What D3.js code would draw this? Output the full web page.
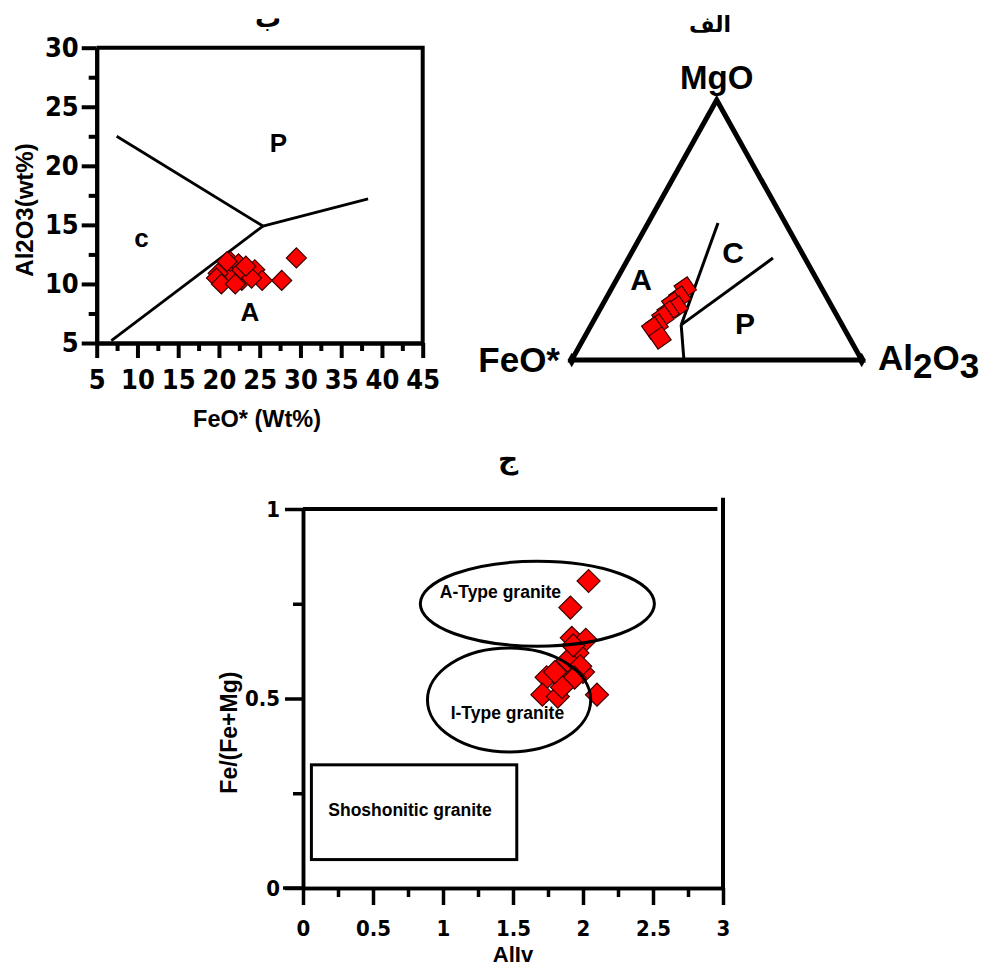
<!DOCTYPE html>
<html>
<head>
<meta charset="utf-8">
<script src="https://cdn.jsdelivr.net/npm/d3@7"></script>
<style>
  body { margin: 0; background: #fff; }
  svg { display: block; background: #fff; }
  text { font-family: "Liberation Sans", Arial, sans-serif; font-weight: bold; fill: #000; }
  .ar { font-family: "DejaVu Sans", sans-serif; }
  .num { font-family: "DejaVu Sans Condensed", "DejaVu Sans", sans-serif; font-stretch: condensed; }
</style>
</head>
<body>
<svg id="fig" width="984" height="969"></svg>
<script>
// ---------- data: FeO* vs Al2O3 (plot "ب") ----------
const bFeO   = [29.5, 27.7, 24.4, 25.3, 22.8, 21.2, 21.4, 19.9, 19.7, 22.4, 22.8, 20.3, 22.0, 24.0, 21.0, 23.3];
const bAl2O3 = [12.2, 10.3, 11.2, 10.3, 10.3, 10.6, 11.9, 10.9, 10.5, 11.7, 11.2, 10.0, 10.0, 10.5, 11.9, 11.5];
const bTicksX = [5, 10, 15, 20, 25, 30, 35, 40, 45];
const bTicksY = [5, 10, 15, 20, 25, 30];
const bLineCP = [[7.45, 22.5], [25.4, 14.9]];   // c / P boundary
const bLineAP = [[25.4, 14.9], [38.3, 17.2]];   // A / P boundary
const bLineAC = [[6.8, 5.2], [25.4, 14.9]];     // A / c boundary
const bFields = [["P", 27.3, 21.9], ["c", 10.5, 13.9], ["A", 23.8, 7.6]];

// ---------- data: ternary FeO*-MgO-Al2O3 (plot "الف") ----------
const tMgO   = [0.277, 0.242, 0.219, 0.204, 0.185, 0.165, 0.135, 0.123, 0.085];
const tAl2O3 = [0.253, 0.252, 0.239, 0.261, 0.240, 0.232, 0.227, 0.218, 0.262];
// boundaries as [Al2O3, MgO] fractions, FeO* = 1 - both
const tJunction = [0.310, 0.135];
const tLineC = [[0.241, 0.527], tJunction];
const tLineP = [[0.498, 0.392], tJunction];
const tLineB = [tJunction, [0.387, 0.0]];
const tFields = [["A", 0.085, 0.308], ["C", 0.349, 0.415], ["P", 0.527, 0.142]];

// ---------- data: AlIV vs Fe/(Fe+Mg) (plot "ج") ----------
const alIV    = [2.04, 1.91, 1.92, 2.02, 1.96, 1.89, 2.00, 1.98, 1.74, 1.86, 1.94, 1.71, 1.82, 2.10, 1.85, 1.93, 1.80];
const feRatio = [0.81, 0.74, 0.66, 0.655, 0.62, 0.60, 0.57, 0.585, 0.556, 0.545, 0.555, 0.51, 0.505, 0.51, 0.53, 0.64, 0.57];
const cTicksX = [0, 0.5, 1, 1.5, 2, 2.5, 3];
const cTicksY = [0, 0.5, 1];
// ellipse fields: name, cx, cy, rx, ry, label x, label y
const cEllipses = [
  ["A-Type granite", 1.674, 0.75, 0.836, 0.112, 1.41, 0.765],
  ["I-Type granite", 1.472, 0.496, 0.583, 0.137, 1.46, 0.446]
];
const cBox = ["Shoshonitic granite", 0.06, 1.527, 0.075, 0.325, 0.764, 0.19];

const svg = d3.select("#fig");

function diamonds(g, pts, area, angle) {
  g.selectAll("path.pt").data(pts).enter().append("path")
    .attr("class", "pt")
    .attr("d", d3.symbol(d3.symbolSquare, area))
    .attr("transform", d => `translate(${d[0]},${d[1]}) rotate(${angle})`)
    .attr("fill", "#ff0000")
    .attr("stroke", "#3a0000")
    .attr("stroke-width", 1.2);
}

function styleAxis(a, w, fs) {
  a.selectAll("path.domain").attr("stroke-width", w).attr("stroke", "#000");
  a.selectAll(".tick line").attr("stroke-width", w).attr("stroke", "#000");
  if (fs) a.selectAll("text").attr("class", "num").style("font-size", fs + "px");
}

// ================= plot ب =================
function plotB() {
  const x = d3.scaleLinear().domain([5, 45]).range([96.7, 422.7]);
  const y = d3.scaleLinear().domain([5, 30]).range([343, 47.7]);
  const g = svg.append("g");

  // frame top/right
  g.append("path")
    .attr("d", `M${x(5)},${y(30)}H${x(45)}V${y(5)}`)
    .attr("fill", "none").attr("stroke", "#000").attr("stroke-width", 4);

  const minorX = d3.range(7.5, 45, 5);
  const minorY = d3.range(7.5, 30, 5);

  const ax = g.append("g").attr("transform", `translate(0,${y(5)})`)
    .call(d3.axisBottom(x).tickValues(bTicksX).tickSize(15).tickSizeOuter(0).tickPadding(12));
  styleAxis(ax, 4, 27);
  const axm = g.append("g").attr("transform", `translate(0,${y(5)})`)
    .call(d3.axisBottom(x).tickValues(minorX).tickSize(8).tickSizeOuter(0).tickFormat(""));
  styleAxis(axm, 4);

  const ay = g.append("g").attr("transform", `translate(${x(5)},0)`)
    .call(d3.axisLeft(y).tickValues(bTicksY).tickSize(15).tickSizeOuter(0).tickPadding(3));
  styleAxis(ay, 4, 27);
  const aym = g.append("g").attr("transform", `translate(${x(5)},0)`)
    .call(d3.axisLeft(y).tickValues(minorY).tickSize(8).tickSizeOuter(0).tickFormat(""));
  styleAxis(aym, 4);

  const line = d3.line().x(d => x(d[0])).y(d => y(d[1]));
  [bLineCP, bLineAP, bLineAC].forEach(l => {
    g.append("path").attr("d", line(l)).attr("fill", "none")
      .attr("stroke", "#000").attr("stroke-width", 2.8);
  });

  g.selectAll("text.field").data(bFields).enter().append("text")
    .attr("class", "field")
    .attr("x", d => x(d[1])).attr("y", d => y(d[2]))
    .attr("text-anchor", "middle").attr("dy", "0.35em")
    .style("font-size", "26px").text(d => d[0]);

  diamonds(g.append("g"), bFeO.map((v, i) => [x(v), y(bAl2O3[i])]), 200, 45);

  g.append("text").attr("x", 257).attr("y", 427).attr("text-anchor", "middle")
    .style("font-size", "23.5px").text("FeO* (Wt%)");
  g.append("text").attr("transform", "translate(33,210) rotate(-90)").attr("text-anchor", "middle")
    .style("font-size", "24px").text("Al2O3(wt%)");
  g.append("text").attr("class", "ar").attr("x", 268).attr("y", 27).attr("text-anchor", "middle")
    .style("font-size", "26px").text("ب");
}

// ================= plot الف =================
function plotA() {
  const tx = d3.scaleLinear().domain([0, 1]).range([571.7, 861.7]);
  const ty = d3.scaleLinear().domain([0, 1]).range([360, 100]);
  const proj = (al, mg) => [tx(al + mg / 2), ty(mg)];
  const g = svg.append("g");

  const corners = [proj(0, 0), proj(1, 0), proj(0, 1)];
  g.append("path").attr("d", "M" + corners.join("L") + "Z")
    .attr("fill", "none").attr("stroke", "#000").attr("stroke-width", 5)
    .attr("stroke-linejoin", "miter");
  // small arrow heads at the base corners
  g.append("path").attr("d", d3.symbol(d3.symbolDiamond, 60))
    .attr("transform", `translate(${corners[0][0]},${corners[0][1]})`);
  g.append("path").attr("d", d3.symbol(d3.symbolDiamond, 60))
    .attr("transform", `translate(${corners[1][0]},${corners[1][1]})`);

  const line = d3.line().x(d => proj(d[0], d[1])[0]).y(d => proj(d[0], d[1])[1]);
  [tLineC, tLineP, tLineB].forEach(l => {
    g.append("path").attr("d", line(l)).attr("fill", "none")
      .attr("stroke", "#000").attr("stroke-width", 3);
  });

  g.selectAll("text.field").data(tFields).enter().append("text")
    .attr("class", "field")
    .attr("x", d => proj(d[1], d[2])[0]).attr("y", d => proj(d[1], d[2])[1])
    .attr("text-anchor", "middle").attr("dy", "0.35em")
    .style("font-size", "30px").text(d => d[0]);

  diamonds(g.append("g"), tAl2O3.map((v, i) => proj(v, tMgO[i])), 256, -35);

  g.append("text").attr("x", corners[2][0]).attr("y", 89).attr("text-anchor", "middle")
    .style("font-size", "33px").text("MgO");
  g.append("text").attr("x", 560).attr("y", 372).attr("text-anchor", "end")
    .style("font-size", "35px").text("FeO*");
  const al = g.append("text").attr("x", 878).attr("y", 370).style("font-size", "35px");
  al.append("tspan").text("Al");
  al.append("tspan").attr("dy", 8).text("2");
  al.append("tspan").attr("dy", -8).text("O");
  al.append("tspan").attr("dy", 8).text("3");
  g.append("text").attr("class", "ar").attr("x", 710).attr("y", 32).attr("text-anchor", "middle")
    .style("font-size", "22px").text("الف");
}

// ================= plot ج =================
function plotC() {
  const x = d3.scaleLinear().domain([0, 3]).range([303, 723]);
  const y = d3.scaleLinear().domain([0, 1]).range([888, 509]);
  const g = svg.append("g");

  // top line and right side
  g.append("line").attr("x1", x(0)).attr("x2", x(2.96)).attr("y1", y(1)).attr("y2", y(1))
    .attr("stroke", "#000").attr("stroke-width", 4);
  g.append("line").attr("x1", x(3)).attr("x2", x(3)).attr("y1", y(1.03)).attr("y2", y(0))
    .attr("stroke", "#000").attr("stroke-width", 4);

  const ax = g.append("g").attr("transform", `translate(0,${y(0)})`)
    .call(d3.axisBottom(x).tickValues(cTicksX).tickFormat(d3.format("")).tickSize(17).tickSizeOuter(0).tickPadding(15));
  styleAxis(ax, 3.5, 22);
  const axm = g.append("g").attr("transform", `translate(0,${y(0)})`)
    .call(d3.axisBottom(x).tickValues(d3.range(0.25, 3, 0.5)).tickSize(9).tickSizeOuter(0).tickFormat(""));
  styleAxis(axm, 3.5);

  const ay = g.append("g").attr("transform", `translate(${x(0)},0)`)
    .call(d3.axisLeft(y).tickValues(cTicksY).tickFormat(d3.format("")).tickSize(18).tickSizeOuter(0).tickPadding(5));
  styleAxis(ay, 3.5, 22);
  const aym = g.append("g").attr("transform", `translate(${x(0)},0)`)
    .call(d3.axisLeft(y).tickValues([0.25, 0.75]).tickSize(10).tickSizeOuter(0).tickFormat(""));
  styleAxis(aym, 3.5);
  // axis lines reach past the origin
  g.append("line").attr("x1", x(0) - 20).attr("x2", x(0)).attr("y1", y(0)).attr("y2", y(0))
    .attr("stroke", "#000").attr("stroke-width", 3.5);

  // shoshonitic box
  g.append("rect")
    .attr("x", x(cBox[1])).attr("y", y(cBox[4]))
    .attr("width", x(cBox[2]) - x(cBox[1])).attr("height", y(cBox[3]) - y(cBox[4]))
    .attr("fill", "none").attr("stroke", "#000").attr("stroke-width", 3);
  g.append("text").attr("x", x(cBox[5])).attr("y", y(cBox[6])).attr("text-anchor", "middle")
    .style("font-size", "17.5px").text(cBox[0]);

  g.selectAll("text.field").data(cEllipses).enter().append("text")
    .attr("class", "field")
    .attr("x", d => x(d[5])).attr("y", d => y(d[6]))
    .attr("text-anchor", "middle").style("font-size", "17.5px").text(d => d[0]);

  diamonds(g.append("g"), alIV.map((v, i) => [x(v), y(feRatio[i])]), 265, 45);

  g.selectAll("ellipse").data(cEllipses).enter().append("ellipse")
    .attr("cx", d => x(d[1])).attr("cy", d => y(d[2]))
    .attr("rx", d => x(d[3]) - x(0)).attr("ry", d => y(0) - y(d[4]))
    .attr("fill", "none").attr("stroke", "#000").attr("stroke-width", 3);

  g.append("text").attr("x", x(1.5)).attr("y", 962).attr("text-anchor", "middle")
    .style("font-size", "22px").text("AlIv");
  g.append("text").attr("transform", `translate(237,${y(0.41)}) rotate(-90)`).attr("text-anchor", "middle")
    .style("font-size", "23px").text("Fe/(Fe+Mg)");
  g.append("text").attr("class", "ar").attr("x", 508).attr("y", 468).attr("text-anchor", "middle")
    .style("font-size", "28px").text("ج");
}

plotB();
plotA();
plotC();
</script>
</body>
</html>
